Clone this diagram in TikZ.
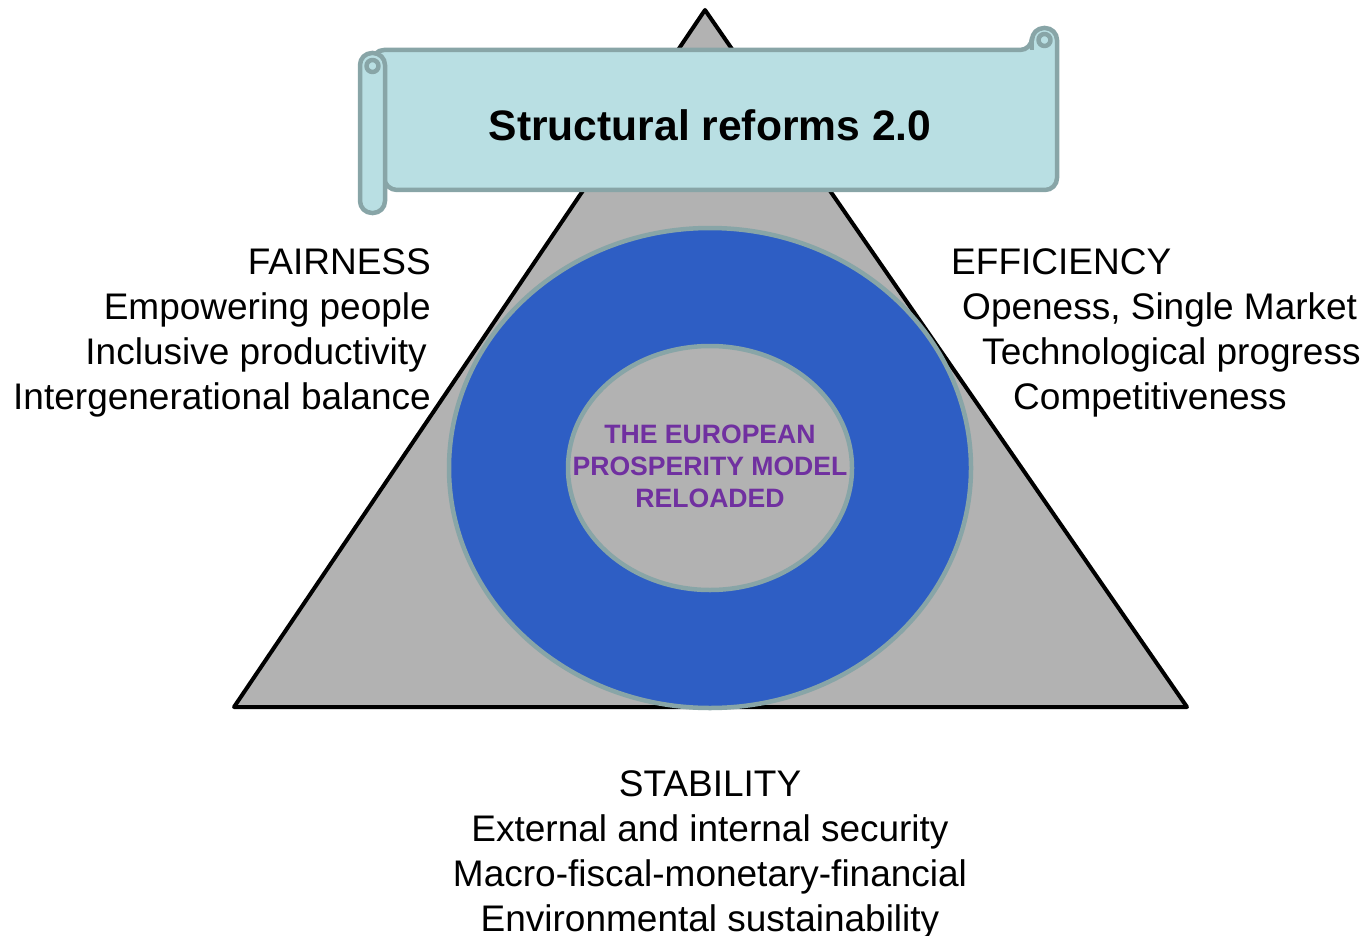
\documentclass[tikz,border=0pt]{standalone}
\usepackage{fontspec}
\setmainfont{Liberation Sans}
\definecolor{trigray}{HTML}{B2B2B2}
\definecolor{ringblue}{HTML}{2E5EC4}
\definecolor{rimteal}{HTML}{88A5A7}
\definecolor{scrollcyan}{HTML}{B9DFE3}
\definecolor{modelpurple}{HTML}{7030A0}
\begin{document}
\begin{tikzpicture}[x=1pt,y=-1pt,
    rim/.style={draw=rimteal,line width=4.5pt},
    scroll/.style={fill=scrollcyan,draw=rimteal,line width=4.5pt,line join=round},
    side/.style={font=\fontsize{37}{45}\selectfont,inner sep=0pt}]
    \useasboundingbox (0,0) rectangle (1367,936);
    % triangle and rings
    \filldraw[fill=trigray,draw=black,line width=4pt,line join=round] (705,10) -- (1187,707) -- (234,707) -- cycle;
    \filldraw[rim,fill=ringblue] (710,468) ellipse [x radius=261, y radius=240];
    \filldraw[rim,fill=trigray] (710,468) ellipse [x radius=142, y radius=122];
    \node[align=center,text=modelpurple,font=\fontsize{26.6}{32}\selectfont\bfseries] (model) at (710,466)
        {THE EUROPEAN\\PROSPERITY MODEL\\RELOADED};
    % banner
    \filldraw[scroll,rounded corners=12] (372,50) -- (1032,50) -- (1032,28) -- (1057,28) -- (1057,190) -- (385,190) -- cycle;
    \draw[scroll] (1044.5,40) circle (6);
    \draw[rim] (1032,40) -- (1032,50);
    \filldraw[scroll,rounded corners=12] (360,53) rectangle (385,213);
    \draw[scroll] (372.5,66) circle (6);
    \draw[rim] (385,66) -- (385,78);
    \node[font=\fontsize{42.6}{50}\selectfont\bfseries] (title) at (710,125) {Structural reforms 2.0};
    % the three sides
    \node[side,align=right,anchor=north east] (fair) at (431,248)
        {FAIRNESS\\Empowering people\\\hbox{Inclusive productivity\hspace{4pt}}\\Intergenerational balance};
    \node[side,align=left,anchor=north west] (effic) at (951,248)
        {EFFICIENCY\\\hspace*{11pt}Openess, Single Market\\\hspace*{31pt}Technological progress\\\hspace*{62pt}Competitiveness};
    \node[side,align=center,anchor=north] (stab) at (710,770)
        {STABILITY\\External and internal security\\Macro-fiscal-monetary-financial\\Environmental sustainability};
\end{tikzpicture}
\end{document}
